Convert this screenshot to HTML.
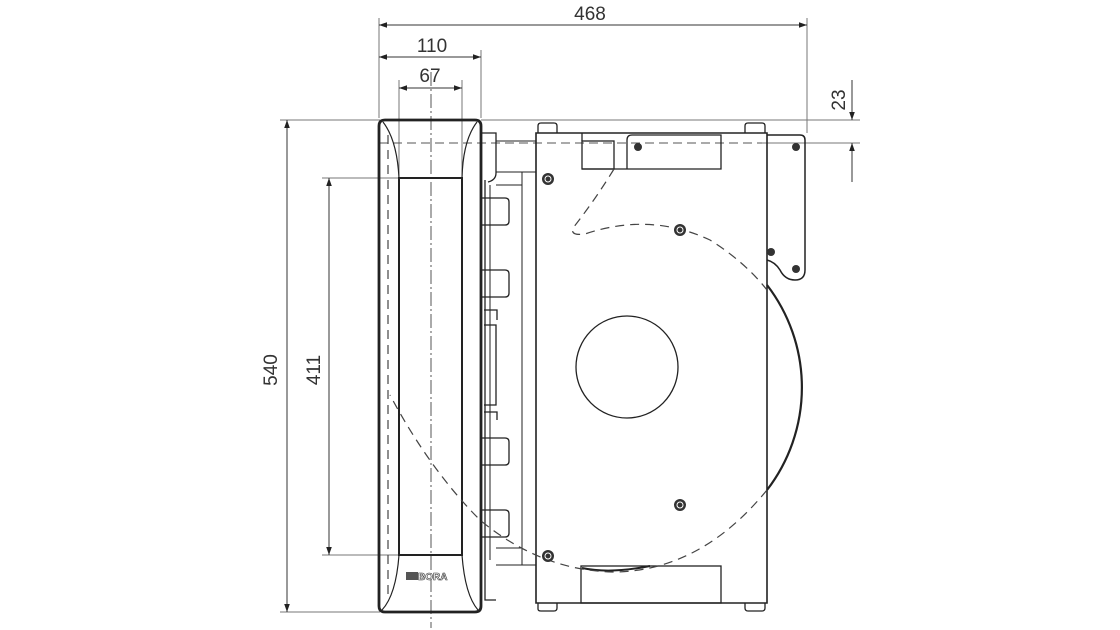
<!DOCTYPE html>
<html><head><meta charset="utf-8"><style>
html,body{margin:0;padding:0;background:#fff;width:1120px;height:630px;overflow:hidden}
svg{display:block}
text{font-family:"Liberation Sans",sans-serif;font-size:19px;fill:#333}
</style></head><body>
<svg width="1120" height="630" viewBox="0 0 1120 630" xmlns="http://www.w3.org/2000/svg">
<defs><marker id="a" viewBox="0 0 10 10" refX="10" refY="5" markerWidth="10" markerHeight="8" orient="auto-start-reverse" markerUnits="userSpaceOnUse"><path d="M0,1.5 L10,5 L0,8.5z" fill="#222"/></marker></defs>
<g stroke="#777" stroke-width="1" fill="none">
<line x1="379" y1="18" x2="379" y2="118"/>
<line x1="807" y1="18" x2="807" y2="133"/>
<line x1="481" y1="50" x2="481" y2="118"/>
<line x1="399" y1="80" x2="399" y2="176"/>
<line x1="462" y1="80" x2="462" y2="176"/>
<line x1="280" y1="120" x2="380" y2="120"/>
<line x1="280" y1="612" x2="380" y2="612"/>
<line x1="322" y1="178" x2="399" y2="178"/>
<line x1="322" y1="555" x2="399" y2="555"/>
<line x1="481" y1="120" x2="860" y2="120"/>
<line x1="762" y1="143" x2="860" y2="143"/>
</g>
<g stroke="#333" stroke-width="1" fill="none">
<line x1="379" y1="25" x2="807" y2="25" marker-start="url(#a)" marker-end="url(#a)"/>
<line x1="379" y1="57" x2="481" y2="57" marker-start="url(#a)" marker-end="url(#a)"/>
<line x1="399" y1="88" x2="462" y2="88" marker-start="url(#a)" marker-end="url(#a)"/>
<line x1="287" y1="120" x2="287" y2="612" marker-start="url(#a)" marker-end="url(#a)"/>
<line x1="329" y1="178" x2="329" y2="555" marker-start="url(#a)" marker-end="url(#a)"/>
<line x1="852" y1="80" x2="852" y2="120" marker-end="url(#a)"/>
<line x1="852" y1="182" x2="852" y2="143" marker-end="url(#a)"/>
</g>
<text x="590" y="20" text-anchor="middle">468</text>
<text x="432" y="52" text-anchor="middle">110</text>
<text x="430" y="82" text-anchor="middle">67</text>
<text transform="translate(277,370) rotate(-90)" text-anchor="middle">540</text>
<text transform="translate(320,370) rotate(-90)" text-anchor="middle">411</text>
<text transform="translate(845,100) rotate(-90)" text-anchor="middle">23</text>
<line x1="431" y1="72" x2="431" y2="628" stroke="#555" stroke-width="1" stroke-dasharray="14,3,2,3"/>
<line x1="379" y1="143" x2="762" y2="143" stroke="#555" stroke-width="1" stroke-dasharray="9,5"/>
<g stroke="#222" fill="none">
<path d="M385,120 L475,120 Q481,120 481,126 L481,606 Q481,612 475,612 L385,612 Q379,612 379,606 L379,126 Q379,120 385,120Z" stroke-width="2.8"/>
<path d="M383,122 Q397,140 399,178 M477,122 Q463,140 462,178" stroke-width="1.2"/>
<rect x="399" y="178" width="63" height="377" stroke-width="2"/>
<path d="M399,555 Q396,595 382,610 M462,555 Q465,595 478,610" stroke-width="1.2"/>
<path d="M481,133 L496,133 L496,173 Q496,180 488,182" stroke-width="1.3"/>
<line x1="496" y1="141" x2="536" y2="141" stroke-width="1"/>
<line x1="496" y1="172" x2="536" y2="172" stroke-width="1"/>
<path d="M485,180 L485,600 L496,600" stroke-width="1.3"/>
<line x1="490" y1="185" x2="490" y2="560" stroke-width="1"/>
<line x1="522" y1="172" x2="522" y2="565" stroke-width="1"/>
<line x1="496" y1="185" x2="522" y2="185" stroke-width="1"/>
<line x1="496" y1="565" x2="536" y2="565" stroke-width="1"/>
<line x1="496" y1="548" x2="522" y2="548" stroke-width="1"/>
<path d="M482,198 L505,198 Q509,198 509,202 L509,221 Q509,225 505,225 L482,225 M482,270 L505,270 Q509,270 509,274 L509,293 Q509,297 505,297 L482,297 M482,438 L505,438 Q509,438 509,442 L509,461 Q509,465 505,465 L482,465 M482,510 L505,510 Q509,510 509,514 L509,533 Q509,537 505,537 L482,537" stroke-width="1.3"/>
<path d="M484,310 L497,310 L497,320 M484,412 L497,412 L497,420 M484,325 L496,325 L496,405 L484,405" stroke-width="1.3"/>
<path d="M536,133 L767,133 L767,603 L536,603 Z" stroke-width="1.6"/>
<path d="M538,133 L538,126 Q538,123 541,123 L554,123 Q557,123 557,126 L557,133 M745,133 L745,126 Q745,123 748,123 L762,123 Q765,123 765,126 L765,133" stroke-width="1.3"/>
<path d="M538,603 L538,609 Q538,611 541,611 L554,611 Q557,611 557,608 L557,603 M745,603 L745,608 Q745,611 748,611 L762,611 Q765,611 765,608 L765,603" stroke-width="1.3"/>
<rect x="582" y="141" width="32" height="28" stroke-width="1.3"/>
<line x1="582" y1="133" x2="582" y2="141" stroke-width="1.3"/>
<path d="M627,169 L627,140 Q627,135 632,135 L721,135 L721,169 L582,169" stroke-width="1.3"/>
<rect x="581" y="566" width="140" height="37" stroke-width="1.3"/>
<circle cx="627" cy="367" r="51" stroke-width="1.3"/>
<path d="M767,135 L800,135 Q805,135 805,140 L805,270 Q805,280 795,280 Q785,280 780,270 Q775,262 767,260" stroke-width="1.5"/>
<path d="M767,285 A168,168 0 0 1 767,490" stroke-width="2.2"/>
<path d="M582,568 Q610,574 650,566" stroke-width="2"/>
</g>
<g stroke="#444" stroke-width="1.2" fill="none" stroke-dasharray="9,6">
<path d="M767,490 Q700,572 612,572 Q540,570 480,520 Q430,470 390,395"/>
<path d="M614,169 Q595,200 573,228 Q570,236 585,234 Q650,212 710,240 Q745,262 767,290"/>
<line x1="388" y1="135" x2="388" y2="600"/>
</g>
<g fill="#333">
<circle cx="548" cy="179" r="6"/><circle cx="680" cy="230" r="6"/><circle cx="680" cy="505" r="6"/><circle cx="548" cy="556" r="6"/>
<circle cx="638" cy="147" r="4"/><circle cx="796" cy="147" r="4"/><circle cx="796" cy="269" r="4"/><circle cx="771" cy="252" r="4"/>
</g>
<g fill="none" stroke="#fff" stroke-width="1"><circle cx="548" cy="179" r="3"/><circle cx="680" cy="230" r="3"/><circle cx="680" cy="505" r="3"/><circle cx="548" cy="556" r="3"/></g>
<rect x="406" y="572" width="12" height="8" fill="#555"/>
<text x="418" y="580" style="font-size:10px;font-weight:bold;fill:#fff;stroke:#333;stroke-width:0.6">BORA</text>
</svg>
</body></html>
